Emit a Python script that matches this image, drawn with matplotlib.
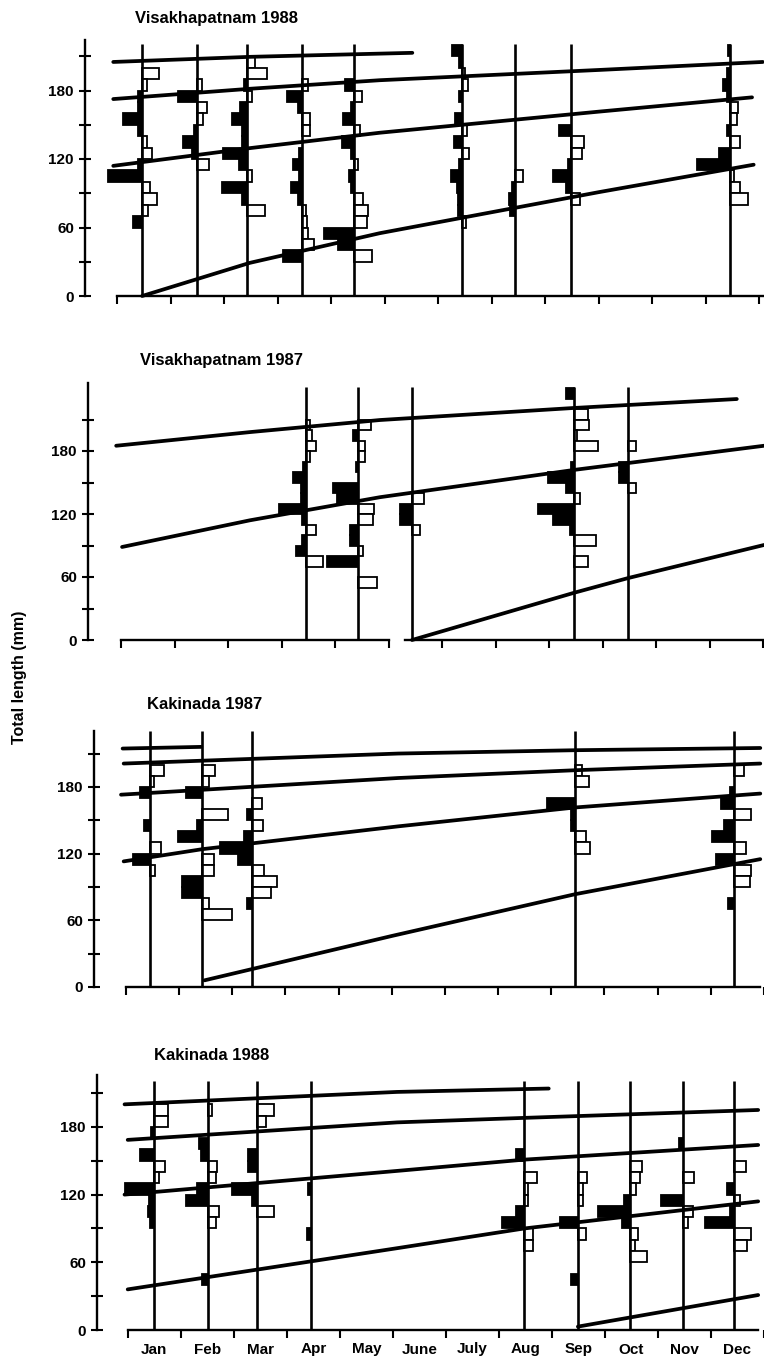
import matplotlib
matplotlib.use('Agg')
import matplotlib.pyplot as plt

plt.rcParams['font.family'] = ['Liberation Sans', 'DejaVu Sans']

# ---------------- data ----------------
MONTHS = ['Jan', 'Feb', 'Mar', 'Apr', 'May', 'June', 'July', 'Aug', 'Sep', 'Oct', 'Nov', 'Dec']
Y_TICKS = [0, 60, 120, 180]
Y_MINOR = [30, 90, 150, 210]
Y_LABEL = 'Total length (mm)'
CLASS_WIDTH = 10  # mm length classes

# Visakhapatnam 1988
V88_TITLE = 'Visakhapatnam 1988'
V88_DATES = [0.47, 1.50, 2.43, 3.46, 4.43, 6.45, 7.44, 8.49, 11.46]
V88_BARS = [
    [(195, 1.7), (185, 0.5), (175, -0.4), (165, -0.4), (155, -1.9), (145, -0.4), (135, 0.5), (125, 1.0),
     (115, -0.4), (105, -3.4), (95, 0.8), (85, 1.5), (75, 0.6), (65, -0.9)],
    [(185, 0.5), (175, -1.9), (165, 1.0), (155, 0.6), (145, -0.3), (135, -1.4), (125, -0.5), (115, 1.2)],
    [(205, 0.8), (195, 2.0), (185, -0.3), (175, 0.5), (165, -0.7), (155, -1.5), (145, -0.5), (135, -0.5),
     (125, -2.4), (115, -0.8), (105, 0.5), (95, -2.5), (85, -0.5), (75, 1.8)],
    [(185, 0.6), (175, -1.5), (165, -0.4), (155, 0.8), (145, 0.8), (125, -0.3), (115, -0.9), (105, -0.3),
     (95, -1.1), (85, -0.4), (75, 0.4), (65, 0.5), (55, 0.6), (45, 1.2), (35, -1.9)],
    [(185, -0.9), (175, 0.8), (165, -0.3), (155, -1.1), (145, 0.6), (135, -1.2), (125, -0.3), (115, 0.4),
     (105, -0.5), (95, -0.3), (85, 0.9), (75, 1.4), (65, 1.3), (55, -3.0), (45, -1.6), (35, 1.8)],
    [(215, -1.0), (205, -0.3), (195, 0.3), (185, 0.6), (175, -0.3), (155, -0.7), (145, 0.5), (135, -0.8),
     (125, 0.7), (115, -0.3), (105, -1.1), (95, -0.5), (85, -0.4), (75, -0.4), (65, 0.4)],
    [(105, 0.8), (95, -0.3), (85, -0.6), (75, -0.5)],
    [(145, -1.2), (135, 1.3), (125, 1.1), (115, -0.3), (105, -1.8), (95, -0.5), (85, 0.9)],
    [(215, -0.2), (195, -0.3), (185, -0.7), (175, -0.3), (165, 0.8), (155, 0.7), (145, -0.3), (135, 1.0),
     (125, -1.1), (115, -3.3), (105, 0.4), (95, 1.0), (85, 1.8)],
]
V88_CURVES = [
    ([-0.07, 2.50, 5.52], [205, 209.5, 213]),
    ([-0.07, 2.48, 4.91, 9.01, 12.07], [172.5, 181.5, 189, 198, 205]),
    ([-0.07, 2.48, 4.91, 9.01, 11.87], [114, 129.5, 143, 161.5, 174]),
    ([0.47, 2.48, 4.91, 9.01, 11.90], [0, 29, 55, 91, 115]),
]

# Visakhapatnam 1987
V87_TITLE = 'Visakhapatnam 1987'
V87_DATES = [3.46, 4.43, 5.44, 8.47, 9.48]
V87_BARS = [
    [(205, 0.4), (195, 0.6), (185, 1.0), (175, 0.4), (165, -0.3), (155, -1.3), (145, -0.5), (135, -0.5),
     (125, -2.7), (115, -0.4), (105, 1.0), (95, -0.4), (85, -1.0), (75, 1.7)],
    [(205, 1.3), (195, -0.5), (185, 0.7), (175, 0.7), (165, -0.2), (145, -2.5), (135, -2.1), (125, 1.6),
     (115, 1.5), (105, -0.8), (95, -0.8), (85, 0.5), (75, -3.1), (55, 1.9)],
    [(135, 1.2), (125, -1.2), (115, -1.2), (105, 0.8)],
    [(235, -0.8), (215, 1.4), (205, 1.5), (195, 0.3), (185, 2.4), (165, -0.3), (155, -2.6), (145, -0.8),
     (135, 0.6), (125, -3.6), (115, -2.1), (105, -0.4), (95, 2.2), (75, 1.4)],
    [(185, 0.8), (165, -0.9), (155, -0.9), (145, 0.8)],
]
V87_CURVES = [
    ([-0.09, 2.41, 4.84, 8.47, 11.51], [185, 198, 209.5, 221, 229.5]),
    ([0.02, 2.41, 4.84, 8.47, 12.02], [88.6, 114, 136, 162, 185]),
    ([5.44, 8.47, 9.48, 12.02], [0, 45, 59, 90.5]),
]

# Kakinada 1987
K87_TITLE = 'Kakinada 1987'
K87_DATES = [0.45, 1.44, 2.37, 8.45, 11.44]
K87_BARS = [
    [(195, 1.4), (185, 0.4), (175, -1.0), (145, -0.6), (125, 1.1), (115, -1.7), (105, 0.5)],
    [(195, 1.3), (185, 0.7), (175, -1.6), (155, 2.6), (145, -0.5), (135, -2.5), (115, 1.2), (105, 1.2),
     (95, -2.1), (85, -2.1), (75, 0.7), (65, 3.0)],
    [(165, 1.0), (155, -0.5), (145, 1.1), (135, -0.8), (125, -3.2), (115, -1.4), (105, 1.2), (95, 2.5),
     (85, 1.9), (75, -0.5)],
    [(195, 0.7), (185, 1.4), (165, -2.8), (155, -0.4), (145, -0.4), (135, 1.1), (125, 1.5)],
    [(195, 1.0), (175, -0.4), (165, -1.3), (155, 1.7), (145, -1.0), (135, -2.2), (125, 1.2), (115, -1.8),
     (105, 1.7), (95, 1.6), (75, -0.6)],
]
K87_CURVES = [
    ([-0.06, 1.42], [214.5, 216]),
    ([-0.04, 5.12, 8.45, 11.93], [201, 210, 213, 215]),
    ([-0.09, 5.12, 8.45, 11.93], [173, 188, 195, 201]),
    ([-0.04, 1.44, 5.12, 8.45, 11.93], [113, 124, 144.5, 161.5, 174]),
    ([1.48, 5.01, 8.45, 11.93], [6, 46, 83.5, 115]),
]

# Kakinada 1988
K88_TITLE = 'Kakinada 1988'
K88_DATES = [0.49, 1.51, 2.43, 3.46, 7.48, 8.49, 9.48, 10.47, 11.44]
K88_BARS = [
    [(195, 1.4), (185, 1.4), (175, -0.3), (155, -1.4), (145, 1.1), (135, 0.5), (125, -2.9), (115, -0.5),
     (105, -0.6), (95, -0.4)],
    [(195, 0.4), (165, -0.9), (155, -0.7), (145, 0.9), (135, 0.8), (125, -1.1), (115, -2.2), (105, 1.1),
     (95, 0.8), (45, -0.6)],
    [(195, 1.8), (185, 1.0), (155, -0.9), (145, -0.9), (125, -2.5), (115, -0.5), (105, 1.8)],
    [(125, -0.3), (85, -0.4)],
    [(155, -0.8), (135, 1.3), (125, 0.4), (115, 0.4), (105, -0.8), (95, -2.3), (85, 0.9), (75, 0.9)],
    [(135, 0.9), (125, 0.5), (115, 0.5), (95, -1.8), (85, 0.8), (45, -0.7)],
    [(145, 1.2), (135, 1.0), (125, 0.6), (115, -0.6), (105, -3.3), (95, -0.8), (85, 0.8), (75, 0.5),
     (65, 1.7)],
    [(165, -0.4), (135, 1.1), (115, -2.2), (105, 1.0), (95, 0.5)],
    [(145, 1.2), (125, -0.7), (115, 0.6), (105, -0.4), (95, -3.0), (85, 1.7), (75, 1.3)],
]
K88_CURVES = [
    ([-0.06, 5.08, 7.94], [200, 211, 214]),
    ([0.0, 5.08, 7.48, 11.89], [168.5, 184, 188, 195]),
    ([-0.06, 5.08, 7.48, 11.89], [120, 141, 151, 164]),
    ([0.0, 5.08, 7.48, 11.89], [36, 72.5, 90, 114]),
    ([8.49, 11.89], [3, 31]),
]

# ---------------- layout / style ----------------
W, H = 764, 1361
PX_PER_MONTH = 53.5
BAR_UNIT = 10 / PX_PER_MONTH   # one value unit = 10 px of bar length

# per panel: yaxis_px, tick0_px, zero_px, px_per_mm, ytop_mm, linetop_mm, title_x, title_y
LAYOUT = [
    (85, 117, 296, 68.5 / 60, 224, 221, 135, 18),
    (88, 121, 640, 63.0 / 60, 245, 241, 140, 361),
    (94, 126, 987, 66.7 / 60, 230, 230, 147, 705),
    (97, 128, 1330, 67.7 / 60, 226, 221, 154, 1055),
]
PANELS = [
    (V88_TITLE, V88_DATES, V88_BARS, V88_CURVES),
    (V87_TITLE, V87_DATES, V87_BARS, V87_CURVES),
    (K87_TITLE, K87_DATES, K87_BARS, K87_CURVES),
    (K88_TITLE, K88_DATES, K88_BARS, K88_CURVES),
]
AXIS_GAP_P2 = (5.0, 5.31)

fig = plt.figure(figsize=(W / 100, H / 100), dpi=100)
fig.patch.set_facecolor('white')

for i, ((title, dates, bars, curves), lay) in enumerate(zip(PANELS, LAYOUT)):
    yax, t0, z0, ppm, ytop, ltop, tx, ty = lay
    hpx = ytop * ppm
    ax = fig.add_axes([yax / W, 1 - z0 / H, (W - yax) / W, hpx / H])
    x_left = (yax - t0) / PX_PER_MONTH
    x_right = (W - t0) / PX_PER_MONTH
    ax.set_xlim(x_left, x_right)
    ax.set_ylim(0, ytop)
    ax.patch.set_alpha(0)

    # histograms
    for d, blist in zip(dates, bars):
        cs = [c for c, v in blist]
        ws = [v * BAR_UNIT for c, v in blist]
        cols = ['black' if v < 0 else 'white' for c, v in blist]
        ax.barh(cs, ws, left=d, height=CLASS_WIDTH, color=cols, edgecolor='black',
                linewidth=1.3, zorder=2, clip_on=False)
    # sampling baselines
    ax.vlines(dates, 0, ltop, colors='black', linewidth=1.9, zorder=3, clip_on=False)
    # growth curves
    for xs, ys in curves:
        ax.plot(xs, ys, color='black', linewidth=2.7, solid_capstyle='round',
                solid_joinstyle='round', zorder=4, clip_on=False)

    for s in ['top', 'right']:
        ax.spines[s].set_visible(False)
    ax.spines['left'].set_bounds(0, ytop)
    ax.spines['left'].set_linewidth(1.7)
    ax.spines['bottom'].set_linewidth(1.7)
    if i == 1:
        ax.spines['bottom'].set_bounds(0, AXIS_GAP_P2[0])
        ax.plot([AXIS_GAP_P2[1], x_right], [0, 0], color='black', linewidth=1.7,
                transform=ax.get_xaxis_transform(), clip_on=False, zorder=5)
    else:
        ax.spines['bottom'].set_bounds(0, x_right)

    ax.set_yticks(Y_TICKS)
    ax.set_yticklabels([str(v) for v in Y_TICKS], fontweight='bold')
    ax.set_yticks(Y_MINOR, minor=True)
    ax.tick_params(axis='y', which='both', direction='inout', length=8, width=1.5,
                   labelsize=11, pad=4)

    ax.set_xticks(range(13))
    ax.set_xticklabels([])
    ax.tick_params(axis='x', which='major', direction='out', length=6, width=1.5)
    if i == 3:
        ax.set_xticks([m + 0.5 for m in range(12)], minor=True)
        ax.set_xticklabels(MONTHS, minor=True, fontweight='bold')
        ax.tick_params(axis='x', which='minor', length=0, pad=9, labelsize=11)

    fig.text(tx / W, 1 - ty / H, title, ha='left', va='center', fontsize=12, fontweight='bold')

fig.text(20 / W, 1 - 677 / H, Y_LABEL, rotation=90, ha='center', va='center', fontsize=11.5,
         fontweight='bold')

fig.savefig('out.png', dpi=100, facecolor='white')
